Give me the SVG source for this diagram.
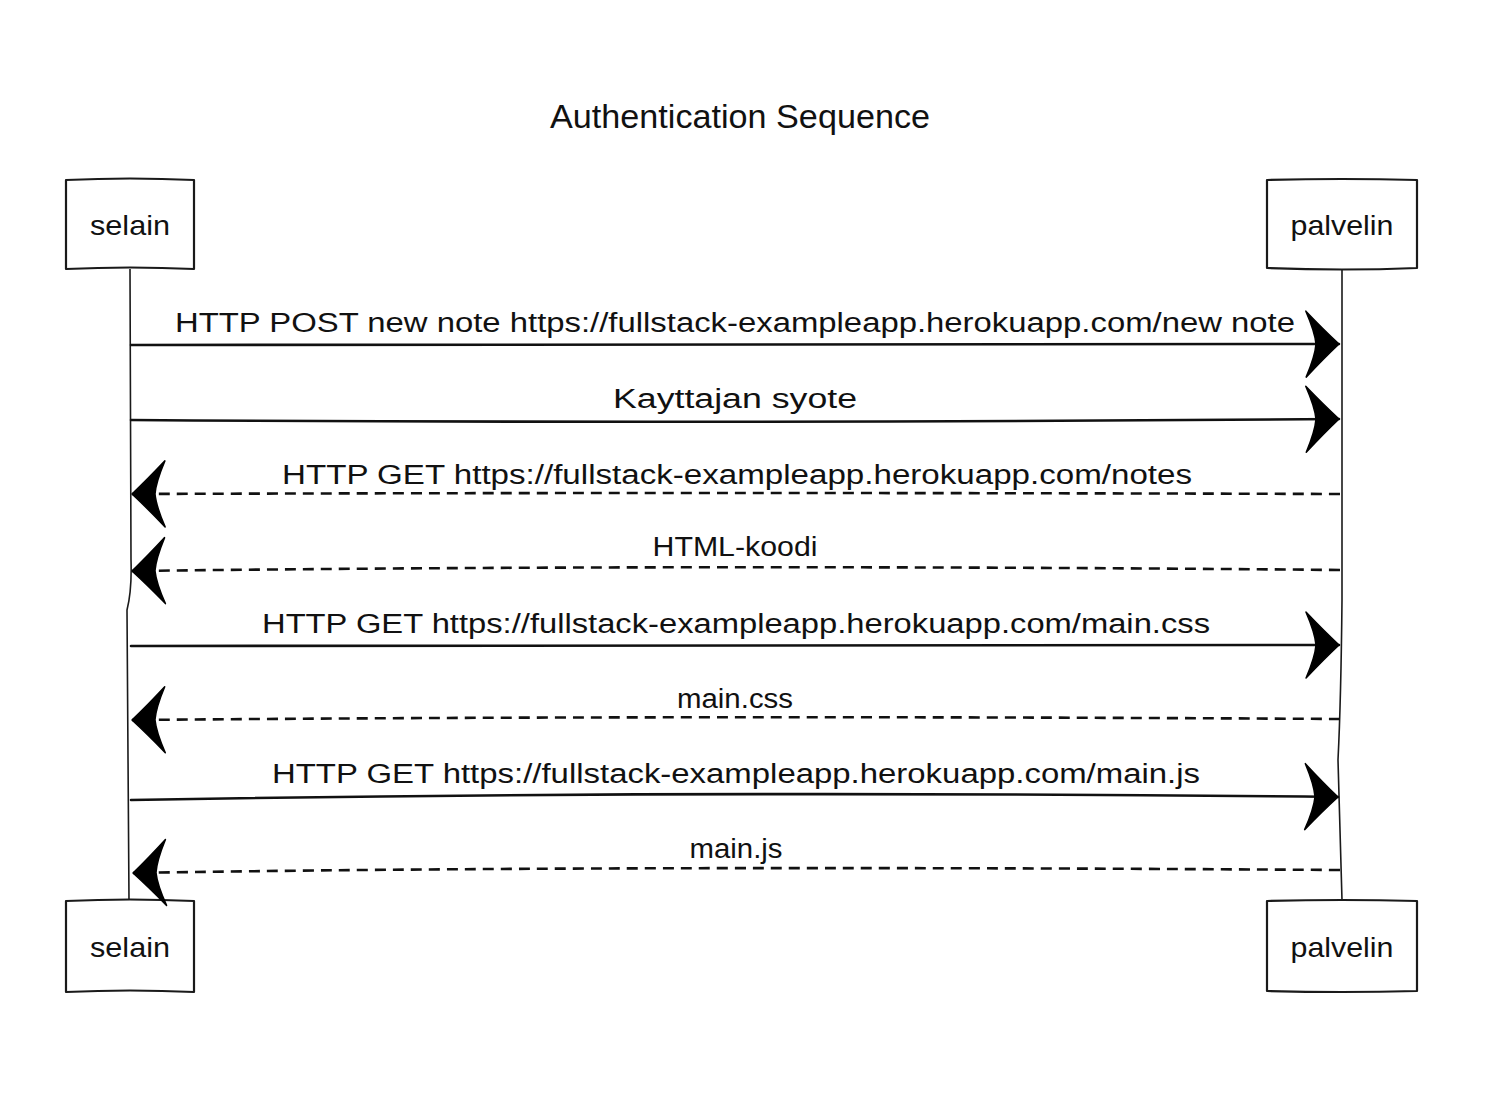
<svg xmlns="http://www.w3.org/2000/svg" width="1506" height="1106" viewBox="0 0 1506 1106">
<style>
.bg{fill:#ffffff}
.box{fill:#ffffff;stroke:#1a1a1a;stroke-width:2.2;stroke-linejoin:round}
.life{fill:none;stroke:#1a1a1a;stroke-width:1.6}
.msg{fill:none;stroke:#111111;stroke-width:2.6;stroke-linecap:round}
.ret{fill:none;stroke:#111111;stroke-width:2.6;stroke-dasharray:11 7}
.lbl{font-family:"Liberation Sans","DejaVu Sans",sans-serif;font-size:27px;fill:#111111;text-anchor:middle}
.node{font-family:"Liberation Sans","DejaVu Sans",sans-serif;font-size:28px;fill:#111111;text-anchor:middle}
.title{font-family:"Liberation Sans","DejaVu Sans",sans-serif;font-size:33px;fill:#111111;text-anchor:middle}
</style>
<defs>
<marker id="head" viewBox="-38 -36 40 72" refX="0" refY="0" markerWidth="40" markerHeight="72" markerUnits="userSpaceOnUse" orient="auto">
<path d="M0,0 Q-15,-14 -33,-33 Q-24,-12 -23,0 Q-24,12 -33,33 Q-15,14 0,0 Z" fill="#000000" stroke="#000000" stroke-width="1.5" stroke-linejoin="round"/>
</marker>
</defs>
<rect class="bg" x="0" y="0" width="1506" height="1106"/>
<text class="title" x="740" y="128" textLength="380" lengthAdjust="spacingAndGlyphs">Authentication Sequence</text>

<g id="lifelines">
<path class="life" d="M130,269 L131,560 Q132,590 127,610 L129,901"/>
<path class="life" d="M1342,269 L1342,600 Q1341,700 1338,760 L1342,900"/>
</g>

<g id="selain-top">
<path class="box" d="M66,180 Q130,177 194,180 L194,269 Q130,266 66,269 Z"/>
<text class="node" x="130" y="235" textLength="80" lengthAdjust="spacingAndGlyphs">selain</text>
</g>
<g id="palvelin-top">
<path class="box" d="M1267,180 Q1342,178 1417,180 L1417,268 Q1342,271 1267,268 Z"/>
<text class="node" x="1342" y="235" textLength="103" lengthAdjust="spacingAndGlyphs">palvelin</text>
</g>
<g id="selain-bottom">
<path class="box" d="M66,901 Q130,898 194,901 L194,992 Q130,989 66,992 Z"/>
<text class="node" x="130" y="957" textLength="80" lengthAdjust="spacingAndGlyphs">selain</text>
</g>
<g id="palvelin-bottom">
<path class="box" d="M1267,901 Q1342,899 1417,901 L1417,991 Q1342,993 1267,991 Z"/>
<text class="node" x="1342" y="957" textLength="103" lengthAdjust="spacingAndGlyphs">palvelin</text>
</g>

<g id="connectors">
<path class="msg" d="M131,345 Q700,347 1339,344" marker-end="url(#head)"/>
<path class="msg" d="M131,420 Q700,424 1339,419" marker-end="url(#head)"/>
<path class="ret" d="M1340,494 Q700,492 132,494" marker-end="url(#head)"/>
<path class="ret" d="M1340,570 Q700,564 132,571" marker-end="url(#head)"/>
<path class="msg" d="M131,646 Q700,646 1339,645" marker-end="url(#head)"/>
<path class="ret" d="M1340,719 Q700,715 132,720" marker-end="url(#head)"/>
<path class="msg" d="M131,800 Q700,790 1338,797" marker-end="url(#head)"/>
<path class="ret" d="M1340,870 Q600,865 133,873" marker-end="url(#head)"/>
</g>

<g id="labels">
<text class="lbl" x="735" y="332" textLength="1120" lengthAdjust="spacingAndGlyphs">HTTP POST new note https://fullstack-exampleapp.herokuapp.com/new note</text>
<text class="lbl" x="735" y="408" textLength="244" lengthAdjust="spacingAndGlyphs">Kayttajan syote</text>
<text class="lbl" x="737" y="484" textLength="910" lengthAdjust="spacingAndGlyphs">HTTP GET https://fullstack-exampleapp.herokuapp.com/notes</text>
<text class="lbl" x="735" y="556" textLength="165" lengthAdjust="spacingAndGlyphs">HTML-koodi</text>
<text class="lbl" x="736" y="633" textLength="948" lengthAdjust="spacingAndGlyphs">HTTP GET https://fullstack-exampleapp.herokuapp.com/main.css</text>
<text class="lbl" x="735" y="708" textLength="116" lengthAdjust="spacingAndGlyphs">main.css</text>
<text class="lbl" x="736" y="783" textLength="928" lengthAdjust="spacingAndGlyphs">HTTP GET https://fullstack-exampleapp.herokuapp.com/main.js</text>
<text class="lbl" x="736" y="858" textLength="93" lengthAdjust="spacingAndGlyphs">main.js</text>
</g>
</svg>
